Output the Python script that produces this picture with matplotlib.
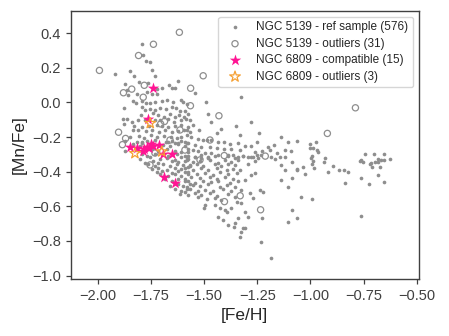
import numpy as np
import matplotlib
matplotlib.use("Agg")
import matplotlib.pyplot as plt
import seaborn as sns

# NGC 5139 reference sample ([Fe/H], [Mn/Fe])
ref_sample = np.array([
    (-1.794, 0.336), (-1.789, 0.275), (-1.775, 0.240), (-1.753, 0.232), (-1.849, 0.184),
    (-1.921, 0.165), (-1.747, 0.188), (-1.828, 0.153), (-1.731, 0.153), (-1.805, 0.119),
    (-1.872, 0.107), (-1.762, 0.111), (-1.665, 0.101), (-1.622, 0.126), (-1.637, 0.086),
    (-1.650, 0.086), (-1.864, 0.072), (-1.723, 0.076), (-1.697, 0.082), (-1.767, 0.063),
    (-1.813, 0.049), (-1.856, 0.043), (-1.744, 0.049), (-1.719, 0.049), (-1.833, 0.011),
    (-1.822, -0.001), (-1.794, 0.007), (-1.775, -0.001), (-1.753, -0.001), (-1.731, 0.005),
    (-1.697, 0.009), (-1.676, 0.015), (-1.647, 0.005), (-1.609, 0.015), (-1.598, 0.005),
    (-1.582, -0.009), (-1.875, -0.032), (-1.794, -0.028), (-1.778, -0.043), (-1.755, -0.039),
    (-1.731, -0.043), (-1.706, -0.034), (-1.681, -0.039), (-1.653, -0.028), (-1.631, -0.034),
    (-1.612, -0.047), (-1.590, -0.047), (-1.797, -0.072), (-1.739, -0.063), (-1.716, -0.070),
    (-1.687, -0.082), (-1.662, -0.068), (-1.637, -0.086), (-1.618, -0.070), (-1.593, -0.082),
    (-1.575, -0.066), (-1.880, -0.097), (-1.861, -0.093), (-1.841, -0.111), (-1.809, -0.101),
    (-1.778, -0.101), (-1.731, -0.101), (-1.706, -0.101), (-1.669, -0.097), (-1.643, -0.111),
    (-1.606, -0.101), (-1.584, -0.097), (-1.877, -0.124), (-1.828, -0.136), (-1.794, -0.144),
    (-1.759, -0.136), (-1.723, -0.132), (-1.700, -0.136), (-1.669, -0.144), (-1.637, -0.136),
    (-1.606, -0.132), (-1.575, -0.140), (-1.833, -0.159), (-1.809, -0.159), (-1.773, -0.163),
    (-1.744, -0.159), (-1.712, -0.169), (-1.684, -0.159), (-1.653, -0.169), (-1.622, -0.163),
    (-1.593, -0.159), (-1.849, -0.201), (-1.806, -0.194), (-1.781, -0.207), (-1.750, -0.188),
    (-1.719, -0.201), (-1.687, -0.194), (-1.656, -0.201), (-1.628, -0.207), (-1.606, -0.197),
    (-1.578, -0.188), (-1.817, -0.226), (-1.794, -0.232), (-1.770, -0.221), (-1.744, -0.232),
    (-1.681, -0.226), (-1.653, -0.221), (-1.622, -0.232), (-1.590, -0.226),
    # lower left band
    (-1.872, -0.222), (-1.794, -0.231), (-1.731, -0.219), (-1.669, -0.229), (-1.637, -0.236),
    (-1.606, -0.220), (-1.575, -0.232), (-1.833, -0.241), (-1.802, -0.250), (-1.692, -0.243),
    (-1.661, -0.253), (-1.622, -0.240), (-1.590, -0.249), (-1.872, -0.279), (-1.747, -0.270),
    (-1.716, -0.281), (-1.676, -0.268), (-1.637, -0.278), (-1.606, -0.285), (-1.575, -0.271),
    (-1.794, -0.299), (-1.770, -0.309), (-1.731, -0.297), (-1.669, -0.310), (-1.629, -0.300),
    (-1.590, -0.307), (-1.802, -0.327), (-1.755, -0.318), (-1.708, -0.329), (-1.676, -0.320),
    (-1.637, -0.331), (-1.606, -0.317), (-1.575, -0.326), (-1.778, -0.347), (-1.739, -0.338),
    (-1.716, -0.349), (-1.653, -0.337), (-1.622, -0.346), (-1.590, -0.340), (-1.762, -0.356),
    (-1.731, -0.366), (-1.692, -0.358), (-1.661, -0.368), (-1.629, -0.355), (-1.598, -0.364),
    (-1.567, -0.359), (-1.747, -0.386), (-1.716, -0.376), (-1.676, -0.388), (-1.637, -0.377),
    (-1.606, -0.385), (-1.575, -0.374), (-1.723, -0.404), (-1.700, -0.395), (-1.653, -0.406),
    (-1.622, -0.397), (-1.590, -0.403), (-1.708, -0.415), (-1.669, -0.425), (-1.637, -0.414),
    (-1.606, -0.423), (-1.575, -0.416), (-1.684, -0.444), (-1.653, -0.452), (-1.622, -0.442),
    (-1.590, -0.453), (-1.661, -0.482), (-1.622, -0.472), (-1.598, -0.484), (-1.567, -0.474),
    (-1.637, -0.502), (-1.606, -0.511), (-1.582, -0.500), (-1.614, -0.529), (-1.590, -0.520),
    # middle, upper part
    (-1.543, 0.053), (-1.493, 0.005), (-1.328, 0.034), (-1.483, -0.068), (-1.465, -0.113),
    (-1.281, -0.111), (-1.352, -0.134), (-1.566, -0.101), (-1.551, -0.130), (-1.524, -0.159),
    (-1.582, -0.159), (-1.566, -0.169), (-1.441, -0.178), (-1.418, -0.155), (-1.242, -0.174),
    (-1.136, -0.197), (-1.104, -0.230), (-1.065, -0.221), (-1.331, -0.188), (-1.559, -0.201),
    (-1.527, -0.213), (-1.504, -0.217), (-1.488, -0.217), (-1.465, -0.217), (-1.433, -0.226),
    (-1.405, -0.226), (-1.378, -0.240), (-1.342, -0.236), (-1.308, -0.251), (-1.253, -0.226),
    (-1.201, -0.259), (-1.170, -0.246), (-1.120, -0.275), (-1.089, -0.278), (-1.582, -0.236),
    (-1.543, -0.246), (-1.512, -0.255), (-1.472, -0.259), (-1.441, -0.265), (-1.405, -0.271),
    (-1.371, -0.271), (-1.331, -0.275), (-1.277, -0.251), (-1.261, -0.284), (-1.227, -0.278),
    (-1.191, -0.275), (-1.159, -0.290), (-1.574, -0.284), (-1.551, -0.275), (-1.527, -0.278),
    (-1.496, -0.294), (-1.465, -0.290), (-1.433, -0.303), (-1.389, -0.309), (-1.363, -0.305),
    (-1.339, -0.313), (-1.316, -0.309), (-1.292, -0.313), (-1.269, -0.317), (-1.248, -0.323),
    (-1.230, -0.303), (-1.186, -0.317), (-1.167, -0.325), (-1.144, -0.313), (-1.120, -0.317),
    (-1.582, -0.313), (-1.543, -0.313), (-1.512, -0.323), (-1.480, -0.317),
    # middle, lower part
    (-1.574, -0.309), (-1.543, -0.318), (-1.512, -0.305), (-1.480, -0.320), (-1.449, -0.311),
    (-1.386, -0.302), (-1.355, -0.322), (-1.316, -0.307), (-1.277, -0.316), (-1.253, -0.304),
    (-1.582, -0.333), (-1.551, -0.345), (-1.519, -0.336), (-1.472, -0.330), (-1.433, -0.347),
    (-1.402, -0.334), (-1.371, -0.343), (-1.339, -0.331), (-1.261, -0.341), (-1.566, -0.366),
    (-1.535, -0.355), (-1.504, -0.369), (-1.449, -0.358), (-1.418, -0.367), (-1.386, -0.354),
    (-1.355, -0.364), (-1.292, -0.357), (-1.590, -0.379), (-1.551, -0.391), (-1.512, -0.380),
    (-1.480, -0.388), (-1.441, -0.377), (-1.394, -0.392), (-1.363, -0.382), (-1.331, -0.389),
    (-1.574, -0.404), (-1.535, -0.415), (-1.496, -0.407), (-1.457, -0.418), (-1.425, -0.402),
    (-1.386, -0.413), (-1.347, -0.406), (-1.590, -0.441), (-1.559, -0.429), (-1.519, -0.438),
    (-1.472, -0.428), (-1.441, -0.443), (-1.402, -0.431), (-1.363, -0.440), (-1.574, -0.452),
    (-1.543, -0.465), (-1.504, -0.455), (-1.465, -0.462), (-1.433, -0.451), (-1.378, -0.463),
    (-1.339, -0.454), (-1.582, -0.487), (-1.551, -0.476), (-1.519, -0.485), (-1.480, -0.474),
    (-1.425, -0.489), (-1.394, -0.478), (-1.355, -0.486), (-1.566, -0.500), (-1.527, -0.512),
    (-1.496, -0.503), (-1.457, -0.510), (-1.410, -0.499), (-1.371, -0.513), (-1.324, -0.504),
    (-1.574, -0.537), (-1.543, -0.526), (-1.512, -0.535), (-1.472, -0.524), (-1.441, -0.538),
    (-1.386, -0.528), (-1.527, -0.549), (-1.488, -0.560), (-1.449, -0.551), (-1.418, -0.562),
    (-1.355, -0.547),
    # scattered, right of the bulk and the low tail
    (-1.136, -0.361), (-1.086, -0.346), (-1.120, -0.390), (-1.086, -0.435), (-1.065, -0.390),
    (-1.104, -0.487), (-1.140, -0.448), (-1.261, -0.410), (-1.277, -0.419), (-1.308, -0.448),
    (-1.222, -0.515), (-1.237, -0.506), (-1.285, -0.525), (-1.269, -0.550), (-1.308, -0.631),
    (-1.292, -0.660), (-1.339, -0.670), (-1.386, -0.708), (-1.410, -0.679), (-1.433, -0.660),
    (-1.394, -0.631), (-1.371, -0.612), (-1.347, -0.573), (-1.324, -0.583), (-1.355, -0.699),
    (-1.358, -0.718), (-1.316, -0.727), (-1.308, -0.724), (-1.324, -0.751), (-1.331, -0.776),
    (-1.233, -0.805), (-1.187, -0.897), (-1.227, -0.670), (-1.084, -0.621), (-1.104, -0.689),
    (-1.065, -0.670), (-1.496, -0.593), (-1.499, -0.608), (-1.449, -0.593), (-1.425, -0.608),
    (-1.402, -0.621),
    # metal-rich end
    (-1.002, -0.242), (-0.987, -0.261), (-0.974, -0.230), (-1.002, -0.265), (-0.968, -0.275),
    (-0.966, -0.284), (-0.991, -0.308), (-0.998, -0.323), (-0.932, -0.319), (-0.935, -0.346),
    (-0.987, -0.338), (-0.994, -0.354), (-0.982, -0.377), (-1.035, -0.375), (-1.065, -0.385),
    (-1.026, -0.415), (-0.916, -0.400), (-0.893, -0.365), (-0.865, -0.390), (-0.841, -0.392),
    (-0.822, -0.404), (-0.835, -0.466), (-0.764, -0.333), (-0.752, -0.346), (-0.741, -0.300),
    (-0.700, -0.296), (-0.653, -0.300), (-0.721, -0.358), (-0.710, -0.371), (-0.681, -0.346),
    (-0.684, -0.327), (-0.669, -0.335), (-0.673, -0.373), (-0.653, -0.333), (-0.627, -0.327),
    (-0.763, -0.439), (-0.725, -0.471), (-0.653, -0.458), (-0.681, -0.419), (-1.045, -0.545),
    (-0.991, -0.560), (-0.767, -0.338), (-0.697, -0.342), (-0.713, -0.350), (-0.764, -0.656),
])

ref_outliers = np.array([
    (-1.992, 0.185), (-1.616, 0.405), (-1.738, 0.336), (-1.808, 0.271), (-1.504, 0.154),
    (-1.563, 0.082), (-1.840, 0.077), (-1.879, 0.056), (-1.781, 0.099), (-1.786, 0.030),
    (-1.564, -0.019), (-1.430, -0.077), (-1.704, -0.124), (-1.686, -0.110), (-1.902, -0.172),
    (-1.869, -0.208), (-1.884, -0.244), (-1.405, -0.307), (-1.212, -0.310), (-1.404, -0.573),
    (-1.330, -0.539), (-1.234, -0.620), (-0.788, -0.031), (-0.920, -0.179), (-1.731, -0.292),
    (-1.660, -0.217), (-1.613, -0.159), (-1.519, -0.332), (-1.754, -0.361), (-1.590, -0.275),
    (-1.472, -0.217),
])

m4_compatible = np.array([
    (-1.740, 0.084), (-1.765, -0.094), (-1.848, -0.259), (-1.817, -0.265), (-1.789, -0.280),
    (-1.770, -0.255), (-1.750, -0.240), (-1.711, -0.246), (-1.693, -0.298), (-1.652, -0.298),
    (-1.687, -0.432), (-1.637, -0.464), (-1.782, -0.269), (-1.740, -0.251), (-1.759, -0.263),
])

m4_outliers = np.array([
    (-1.825, -0.294), (-1.699, -0.284), (-1.753, -0.120),
])

labels = [
    "NGC 5139 - ref sample (576)",
    "NGC 5139 - outliers (31)",
    "NGC 6809 - compatible (15)",
    "NGC 6809 - outliers (3)",
]

sns.set_style("ticks")
plt.rcParams["font.family"] = ["Liberation Sans", "DejaVu Sans"]

fig = plt.figure(figsize=(4.49, 3.36), dpi=100)
ax = fig.add_axes([0.1575, 0.1696, 0.7757, 0.7986])

ax.scatter(ref_sample[:, 0], ref_sample[:, 1], s=7, color="#8e8e8e",
           linewidths=0, label=labels[0], zorder=2)
ax.scatter(ref_outliers[:, 0], ref_outliers[:, 1], s=20, facecolors="none",
           edgecolors="#8e8e8e", linewidths=0.9, label=labels[1], zorder=3)
ax.scatter(m4_compatible[:, 0], m4_compatible[:, 1], s=75, marker="*",
           color="#ff1493", linewidths=0, label=labels[2], zorder=4)
ax.scatter(m4_outliers[:, 0], m4_outliers[:, 1], s=65, marker="*",
           facecolors="none", edgecolors="#f5a033", linewidths=0.9,
           label=labels[3], zorder=5)

ax.set_xlim(-2.127, -0.489)
ax.set_ylim(-1.02, 0.53)
ax.set_xticks(np.arange(-2.0, -0.49, 0.25))
ax.set_yticks(np.arange(-1.0, 0.41, 0.2))
ax.tick_params(labelsize=10.5, length=3.5, width=0.9, colors=".25")
for sp in ax.spines.values():
    sp.set_color(".25")
    sp.set_linewidth(1.0)

ax.set_xlabel("[Fe/H]", fontsize=12.5, color=".15")
ax.set_ylabel("[Mn/Fe]", fontsize=12.5, color=".15")
ax.legend(loc="upper right", fontsize=8.5, frameon=True, labelspacing=0.38)

fig.savefig("out.png", dpi=100)
